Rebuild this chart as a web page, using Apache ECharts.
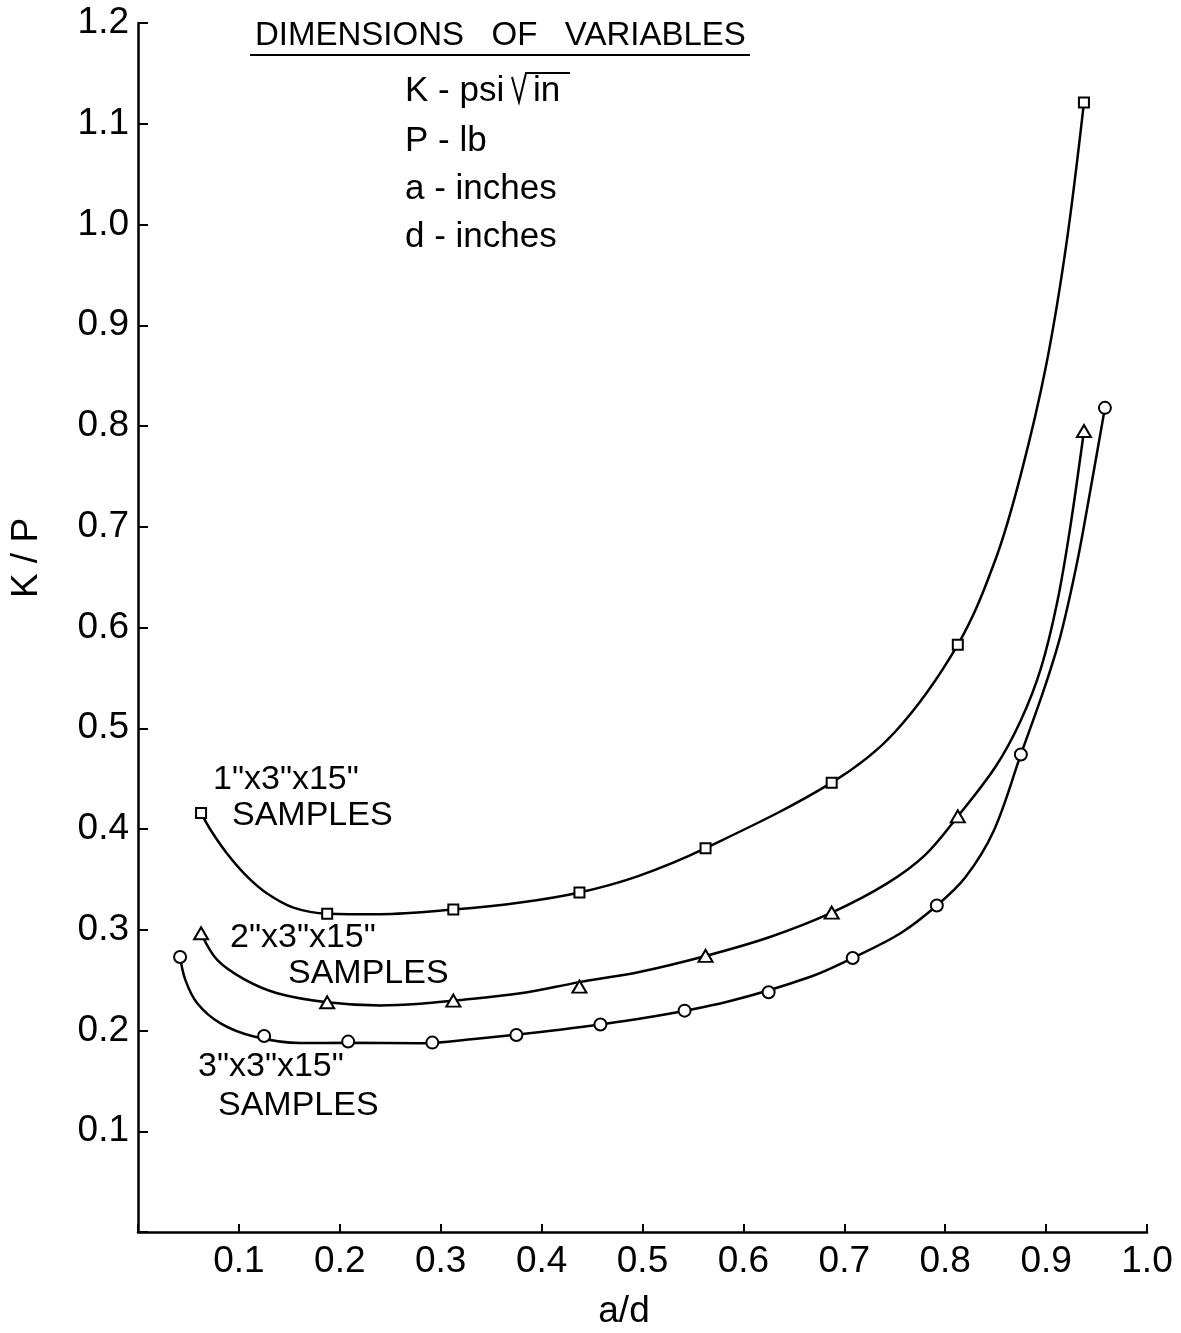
<!DOCTYPE html>
<html>
<head>
<meta charset="utf-8">
<script src="https://cdn.jsdelivr.net/npm/echarts@6/dist/echarts.min.js"></script>
<style>
  html, body { margin: 0; padding: 0; background: #fff; }
  #chart { width: 1181px; height: 1333px; }
</style>
</head>
<body>
<div id="chart"></div>
<script>
// Tick labels
const xTickLabels = ['0.1', '0.2', '0.3', '0.4', '0.5', '0.6', '0.7', '0.8', '0.9', '1.0'];
const yTickLabels = ['0.1', '0.2', '0.3', '0.4', '0.5', '0.6', '0.7', '0.8', '0.9', '1.0', '1.1', '1.2'];

// Measured points [a/d, K/P]
const oneInchPoints = [[0.0625, 0.416], [0.1875, 0.316], [0.3125, 0.320], [0.4375, 0.337],
  [0.5625, 0.381], [0.6875, 0.446], [0.8125, 0.583], [0.9375, 1.121]];
const twoInchPoints = [[0.0625, 0.2965], [0.1875, 0.228], [0.3125, 0.2296], [0.4375, 0.2435],
  [0.5625, 0.274], [0.6875, 0.317], [0.8125, 0.4125], [0.9375, 0.795]];
const threeInchPoints = [[0.0417, 0.273], [0.125, 0.1945], [0.2083, 0.189], [0.2917, 0.188],
  [0.375, 0.1955], [0.4583, 0.206], [0.5417, 0.2197], [0.625, 0.238], [0.7083, 0.272],
  [0.7917, 0.324], [0.875, 0.474], [0.9583, 0.818]];

// Faired curves drawn through each set of samples
const oneInchCurve = [[0.0625, 0.416], [0.072, 0.399], [0.088, 0.376], [0.108, 0.353], [0.128, 0.336],
  [0.154, 0.322], [0.1875, 0.316], [0.24, 0.3155], [0.3125, 0.320], [0.379, 0.327], [0.4375, 0.337],
  [0.495, 0.353], [0.5625, 0.381], [0.6875, 0.446], [0.75, 0.496], [0.8125, 0.583], [0.85, 0.668],
  [0.875, 0.752], [0.9, 0.860], [0.92, 0.980], [0.9375, 1.121]];
const twoInchCurve = [[0.0625, 0.2965], [0.0785, 0.270], [0.105, 0.251], [0.138, 0.237], [0.1875, 0.228],
  [0.24, 0.2248], [0.28, 0.2265], [0.3125, 0.2296], [0.379, 0.2369], [0.4375, 0.248], [0.498, 0.2584],
  [0.5625, 0.274], [0.627, 0.2931], [0.6875, 0.317], [0.7425, 0.346], [0.78, 0.374], [0.8125, 0.4125],
  [0.85, 0.462], [0.875, 0.508], [0.895, 0.560], [0.911, 0.625], [0.924, 0.700], [0.9375, 0.795]];
const threeInchCurve = [[0.0417, 0.273], [0.047, 0.250], [0.0587, 0.227], [0.0818, 0.207], [0.1148, 0.194],
  [0.161, 0.1875], [0.2083, 0.1878], [0.28, 0.1873], [0.333, 0.1916], [0.4155, 0.2005], [0.4997, 0.2121],
  [0.584, 0.2286], [0.6665, 0.2534], [0.7083, 0.272], [0.7557, 0.2965], [0.7917, 0.324], [0.82, 0.352],
  [0.848, 0.398], [0.875, 0.474], [0.8977, 0.538], [0.9143, 0.592], [0.9308, 0.665], [0.944, 0.737],
  [0.9583, 0.818]];

const FONT = '"Liberation Sans", Arial, sans-serif';
const INK = '#000';

const chart = echarts.init(document.getElementById('chart'), null, { renderer: 'canvas' });

function curveSeries(data) {
  return {
    type: 'line', data: data, smooth: 0.35, showSymbol: false, symbol: 'none',
    lineStyle: { color: INK, width: 2.5 }, z: 2, silent: true
  };
}
function markerSeries(data, symbol, size) {
  return {
    type: 'scatter', data: data, symbol: symbol, symbolSize: size,
    itemStyle: { color: '#fff', borderColor: INK, borderWidth: 2, opacity: 1 },
    z: 4, silent: true
  };
}

const txt = (x, y, text, size, align, rot) => ({
  type: 'text', x: x, y: y, rotation: rot || 0, silent: true,
  style: { text: text, fill: INK, font: size + 'px ' + FONT, textAlign: align || 'left', textVerticalAlign: 'middle' }
});
const rule = (x1, y1, x2, y2, w) => ({
  type: 'line', silent: true, shape: { x1: x1, y1: y1, x2: x2, y2: y2 },
  style: { stroke: INK, lineWidth: w || 2 }
});
const stroke = (pts, w) => ({
  type: 'polyline', silent: true, shape: { points: pts },
  style: { stroke: INK, lineWidth: w || 2, fill: null, lineJoin: 'miter' }
});

chart.setOption({
  animation: false,
  backgroundColor: '#fff',
  grid: { left: 138, right: 34, top: 23, bottom: 101, containLabel: false },
  xAxis: {
    type: 'value', min: 0, max: 1.0, interval: 0.1,
    axisLine: { show: true, onZero: false, lineStyle: { color: INK, width: 2.5 } },
    axisTick: { show: true, inside: true, length: 8, lineStyle: { color: INK, width: 2 } },
    splitLine: { show: false },
    axisLabel: {
      color: INK, fontFamily: FONT, fontSize: 37, margin: 11,
      formatter: v => { const i = Math.round(v * 10) - 1; return i >= 0 ? xTickLabels[i] : ''; }
    }
  },
  yAxis: {
    type: 'value', min: 0, max: 1.2, interval: 0.1,
    axisLine: { show: true, onZero: false, lineStyle: { color: INK, width: 2.5 } },
    axisTick: { show: true, inside: true, length: 10, lineStyle: { color: INK, width: 2 } },
    splitLine: { show: false },
    axisLabel: {
      color: INK, fontFamily: FONT, fontSize: 37, margin: 9,
      formatter: v => { const i = Math.round(v * 10) - 1; return i >= 0 ? yTickLabels[i] : ''; }
    }
  },
  series: [
    curveSeries(oneInchCurve),
    curveSeries(twoInchCurve),
    curveSeries(threeInchCurve),
    markerSeries(oneInchPoints, 'rect', 10),
    markerSeries(twoInchPoints, 'triangle', [14, 12]),
    markerSeries(threeInchPoints, 'circle', 12)
  ],
  graphic: [
    // axis titles
    txt(624, 1312, 'a/d', 37, 'center'),
    txt(27, 558, 'K / P', 37, 'center', Math.PI / 2),
    // units box
    txt(255, 36, 'DIMENSIONS   OF   VARIABLES', 33, 'left'),
    rule(250, 55, 750, 55, 2),
    txt(405, 91, 'K - psi', 35, 'left'),
    stroke([[512, 77], [519, 102], [526, 73], [570, 73]], 2),
    txt(533, 91, 'in', 35, 'left'),
    txt(405, 141, 'P - lb', 35, 'left'),
    txt(405, 189, 'a - inches', 35, 'left'),
    txt(405, 237, 'd - inches', 35, 'left'),
    // curve captions
    txt(213, 780, '1"x3"x15"', 34, 'left'),
    txt(232, 816, 'SAMPLES', 34, 'left'),
    txt(230, 938, '2"x3"x15"', 34, 'left'),
    txt(288, 974, 'SAMPLES', 34, 'left'),
    txt(198, 1067, '3"x3"x15"', 34, 'left'),
    txt(218, 1106, 'SAMPLES', 34, 'left')
  ]
});
</script>
</body>
</html>
